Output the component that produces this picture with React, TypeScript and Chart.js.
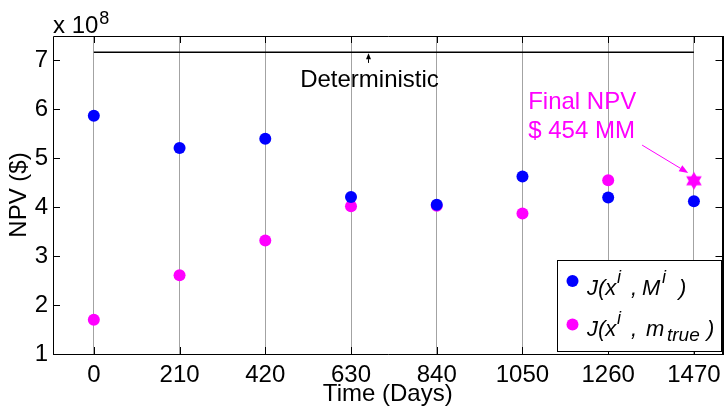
import React, { useEffect, useRef } from 'react';
import { Chart, registerables } from 'chart.js';

Chart.register(...registerables);

// ---- data (NPV in units of 1e8 $) ----
const days = [0, 210, 420, 630, 840, 1050, 1260, 1470];
const npvModel = [5.87, 5.21, 5.40, 4.21, 4.05, 4.63, 4.20, 4.12];
const trueDays = [0, 210, 420, 630, 840, 1050, 1260];
const npvTrue = [1.70, 2.61, 3.32, 4.02, 4.03, 3.87, 4.55];
const finalDay = 1470;
const finalNpv = 4.54;
const deterministicNpv = 7.17;
const deterministicSpan = [0, 1470];
const xTicks = [0, 210, 420, 630, 840, 1050, 1260, 1470];
const yTicks = [1, 2, 3, 4, 5, 6, 7];

const FONT = '"Liberation Sans", Arial, sans-serif';
const BLUE = '#0000ff';
const MAGENTA = '#ff00ff';
const PLOT_RIGHT = 722.5;

function makeHexagram(r: number, color: string) {
  const c = document.createElement('canvas');
  const s = Math.ceil(r * 2 + 2);
  c.width = s;
  c.height = s;
  const ctx = c.getContext('2d')!;
  const cx = s / 2, cy = s / 2;
  ctx.fillStyle = color;
  for (const off of [-Math.PI / 2, Math.PI / 2]) {
    ctx.beginPath();
    for (let k = 0; k < 3; k++) {
      const a = off + (k * 2 * Math.PI) / 3;
      const px = cx + r * Math.cos(a), py = cy + r * Math.sin(a);
      if (k) ctx.lineTo(px, py); else ctx.moveTo(px, py);
    }
    ctx.closePath();
    ctx.fill();
  }
  return c;
}

function arrow(ctx: CanvasRenderingContext2D, x1: number, y1: number, x2: number, y2: number,
  headLen: number, headW: number, color: string, lw: number) {
  const ang = Math.atan2(y2 - y1, x2 - x1);
  const bx = x2 - headLen * Math.cos(ang), by = y2 - headLen * Math.sin(ang);
  ctx.save();
  ctx.strokeStyle = color;
  ctx.fillStyle = color;
  ctx.lineWidth = lw;
  ctx.beginPath();
  ctx.moveTo(x1, y1);
  ctx.lineTo(bx, by);
  ctx.stroke();
  ctx.beginPath();
  ctx.moveTo(x2, y2);
  ctx.lineTo(bx + headW * Math.sin(ang), by - headW * Math.cos(ang));
  ctx.lineTo(bx - headW * Math.sin(ang), by + headW * Math.cos(ang));
  ctx.closePath();
  ctx.fill();
  ctx.restore();
}

const decorPlugin = {
  id: 'decor',
  afterLayout(chart: any) {
    const a = chart.chartArea;
    const xs = chart.scales.x;
    a.right = PLOT_RIGHT;
    a.width = PLOT_RIGHT - a.left;
    xs.right = PLOT_RIGHT;
    xs.width = PLOT_RIGHT - xs.left;
    xs.configure();
  },
  afterDatasetsDraw(chart: any) {
    const { ctx, chartArea: a, scales } = chart;
    const xs = scales.x, ys = scales.y;
    ctx.save();
    // frame
    ctx.strokeStyle = '#000';
    ctx.lineWidth = 1;
    ctx.beginPath();
    ctx.moveTo(Math.round(a.left) + 0.5, Math.round(a.top) + 0.5);
    ctx.lineTo(Math.round(a.right), Math.round(a.top) + 0.5);
    ctx.moveTo(Math.round(a.left) + 0.5, Math.round(a.top) + 0.5);
    ctx.lineTo(Math.round(a.left) + 0.5, Math.round(a.bottom) + 0.5);
    ctx.lineTo(Math.round(a.right), Math.round(a.bottom) + 0.5);
    ctx.stroke();
    ctx.lineWidth = 2;
    ctx.beginPath();
    ctx.moveTo(Math.round(a.right), Math.round(a.top));
    ctx.lineTo(Math.round(a.right), Math.round(a.bottom) + 1);
    ctx.stroke();
    // inward tick marks
    ctx.lineWidth = 1;
    ctx.beginPath();
    for (const t of xs.ticks) {
      const px = Math.round(xs.getPixelForValue(t.value)) + 0.5;
      ctx.moveTo(px, a.top); ctx.lineTo(px, a.top + 7);
      ctx.moveTo(px, a.bottom); ctx.lineTo(px, a.bottom - 7);
    }
    for (const t of ys.ticks) {
      const py = Math.round(ys.getPixelForValue(t.value)) + 0.5;
      ctx.moveTo(a.left, py); ctx.lineTo(a.left + 7, py);
      ctx.moveTo(a.right, py); ctx.lineTo(a.right - 7, py);
    }
    ctx.stroke();

    // Deterministic annotation
    const dx = Math.round(xs.getPixelForValue(672)) + 0.5;
    arrow(ctx, dx, ys.getPixelForValue(6.95), dx, ys.getPixelForValue(deterministicNpv) + 1, 6, 2.5, '#000', 1);
    ctx.fillStyle = '#000';
    ctx.font = `24px ${FONT}`;
    ctx.textAlign = 'center';
    ctx.textBaseline = 'middle';
    ctx.fillText('Deterministic', dx + 1, ys.getPixelForValue(6.6));

    // Final NPV annotation
    ctx.fillStyle = MAGENTA;
    ctx.textAlign = 'left';
    ctx.textBaseline = 'alphabetic';
    const fx = xs.getPixelForValue(1064);
    ctx.fillText('Final NPV', fx, ys.getPixelForValue(6.01));
    ctx.fillText('$ 454 MM', fx, ys.getPixelForValue(5.415));
    arrow(ctx, xs.getPixelForValue(1343), ys.getPixelForValue(5.27),
      xs.getPixelForValue(1456), ys.getPixelForValue(4.70), 9, 3.5, MAGENTA, 1);

    // x 10^8 multiplier
    ctx.fillStyle = '#000';
    ctx.font = `24px ${FONT}`;
    ctx.fillText('x 10', a.left, 33);
    const w = ctx.measureText('x 10').width;
    ctx.font = `18px ${FONT}`;
    ctx.fillText('8', a.left + w + 1, 24);
    ctx.restore();
  },
  afterDraw(chart: any) {
    const { ctx } = chart;
    ctx.save();
    // legend box
    const L = 557, T = 260, R = 722, B = 351;
    ctx.fillStyle = '#fff';
    ctx.fillRect(L, T, R - L, B - T);
    ctx.strokeStyle = '#000';
    ctx.lineWidth = 1;
    ctx.strokeRect(L + 0.5, T + 0.5, R - L - 1, B - T);
    // markers
    ctx.fillStyle = BLUE;
    ctx.beginPath(); ctx.arc(572.5, 281, 6, 0, Math.PI * 2); ctx.fill();
    ctx.fillStyle = MAGENTA;
    ctx.beginPath(); ctx.arc(572.5, 324.5, 6, 0, Math.PI * 2); ctx.fill();
    // text
    ctx.fillStyle = '#000';
    ctx.textAlign = 'left';
    ctx.textBaseline = 'alphabetic';
    const big = `italic 22px ${FONT}`;
    const small = `italic 18px ${FONT}`;
    // line 1
    let y = 295;
    ctx.font = big; ctx.fillText('J(x', 587, y);
    ctx.font = small; ctx.fillText('i', 617, y - 12);
    ctx.font = big; ctx.fillText(',', 631, y);
    ctx.fillText('M', 642, y);
    ctx.font = small; ctx.fillText('i', 662, y - 12);
    ctx.font = big; ctx.fillText(')', 679, y);
    // line 2
    y = 336;
    ctx.font = big; ctx.fillText('J(x', 587, y);
    ctx.font = small; ctx.fillText('i', 617, y - 12);
    ctx.font = big; ctx.fillText(',', 631, y);
    ctx.fillText('m', 646, y);
    ctx.font = `italic 19px ${FONT}`; ctx.fillText('true', 667, y + 5);
    ctx.font = big; ctx.fillText(')', 707, y);
    ctx.restore();
  },
};

export default function App() {
  const ref = useRef<HTMLCanvasElement>(null);
  useEffect(() => {
    if (!ref.current) return;
    Chart.defaults.font.family = FONT;
    const star = makeHexagram(9, MAGENTA);
    const chart = new Chart(ref.current, {
      type: 'scatter',
      data: {
        datasets: [
          {
            label: 'Deterministic',
            data: deterministicSpan.map((d) => ({ x: d, y: deterministicNpv })),
            showLine: true,
            borderColor: '#000',
            borderWidth: 1.5,
            pointRadius: 0,
          },
          {
            label: 'J(x^i, M^i)',
            data: days.map((d, i) => ({ x: d, y: npvModel[i] })),
            backgroundColor: BLUE,
            borderWidth: 0,
            pointRadius: 6,
          },
          {
            label: 'J(x^i, m_true)',
            data: trueDays.map((d, i) => ({ x: d, y: npvTrue[i] })),
            backgroundColor: MAGENTA,
            borderWidth: 0,
            pointRadius: 6,
          },
          {
            label: 'Final NPV',
            data: [{ x: finalDay, y: finalNpv }],
            pointStyle: star as any,
            backgroundColor: MAGENTA,
            borderWidth: 0,
            pointRadius: 9,
          },
        ],
      },
      options: {
        responsive: false,
        animation: false,
        devicePixelRatio: 1,
        layout: { padding: { top: 36, right: 1.5, left: 0, bottom: 0 } },
        plugins: { legend: { display: false }, tooltip: { enabled: false } },
        scales: {
          x: {
            type: 'linear',
            min: -100,
            max: 1540,
            afterBuildTicks: (s: any) => { s.ticks = xTicks.map((v) => ({ value: v })); },
            afterFit: (s: any) => { s.height = 55; s.paddingLeft = 0; s.paddingRight = 0; },
            grid: { color: '#a3a3a3', lineWidth: 1, drawTicks: false },
            border: { display: false },
            ticks: {
              color: '#000', font: { size: 24 }, padding: 7, maxRotation: 0, autoSkip: false,
              callback: (v: any) => String(v),
            },
            title: {
              display: true, text: 'Time (Days)', color: '#000', font: { size: 24 },
              padding: { top: 0, bottom: 0 },
            },
          },
          y: {
            type: 'linear',
            min: 1,
            max: 7.5,
            afterBuildTicks: (s: any) => { s.ticks = yTicks.map((v) => ({ value: v })); },
            afterFit: (s: any) => { s.width = 53; s.paddingTop = 0; s.paddingBottom = 0; },
            grid: { display: false, drawTicks: false },
            border: { display: false },
            ticks: {
              color: '#000', font: { size: 24 }, padding: 5,
              callback: (v: any) => String(v),
            },
            title: {
              display: true, text: 'NPV ($)', color: '#000', font: { size: 24 },
              padding: { top: 5, bottom: 0 },
            },
          },
        },
      },
      plugins: [decorPlugin],
    });
    return () => chart.destroy();
  }, []);
  return (
    <div style={{ position: 'absolute', left: 0, top: 0, width: 724, height: 409, background: '#fff' }}>
      <canvas ref={ref} width={724} height={409} style={{ display: 'block' }} />
    </div>
  );
}
